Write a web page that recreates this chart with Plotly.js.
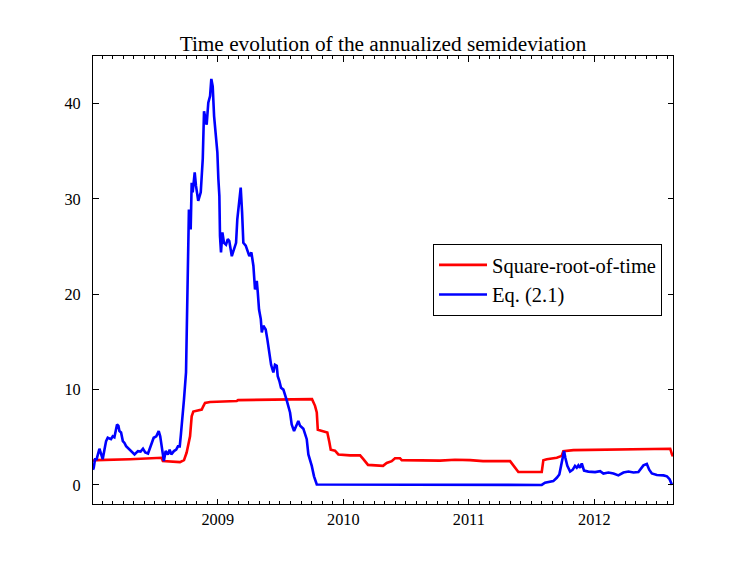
<!DOCTYPE html>
<html>
<head>
<meta charset="utf-8">
<script src="https://cdn.plot.ly/plotly-3.0.1.min.js"></script>
<style>html,body{margin:0;padding:0;background:#fff;}#chart{width:747px;height:561px;}</style>
</head>
<body>
<div id="chart"></div>
<script>
// Decimal-year positions and values
const redYears = [2008.009, 2008.038, 2008.304, 2008.554, 2008.564, 2008.700, 2008.732, 2008.753, 2008.780, 2008.793, 2008.806, 2008.873, 2008.883, 2008.899, 2008.939, 2009.151, 2009.162, 2009.417, 2009.720, 2009.751, 2009.775, 2009.789, 2009.797, 2009.841, 2009.873, 2009.889, 2009.900, 2009.934, 2009.961, 2010.054, 2010.134, 2010.160, 2010.197, 2010.317, 2010.346, 2010.386, 2010.412, 2010.452, 2010.466, 2010.771, 2010.890, 2011.010, 2011.113, 2011.329, 2011.355, 2011.395, 2011.581, 2011.594, 2011.621, 2011.701, 2011.740, 2011.753, 2011.833, 2012.205, 2012.603, 2012.617, 2012.625];
const redValues = [2.55, 2.6, 2.7, 2.85, 2.5, 2.4, 2.6, 3.4, 5.1, 7.2, 7.7, 7.9, 8.2, 8.6, 8.7, 8.8, 8.9, 8.97, 9.05, 9.0, 8.3, 7.6, 5.8, 5.6, 5.5, 4.5, 3.7, 3.6, 3.2, 3.1, 3.1, 2.7, 2.1, 2.0, 2.3, 2.5, 2.8, 2.8, 2.6, 2.55, 2.65, 2.6, 2.5, 2.5, 2.05, 1.35, 1.35, 2.6, 2.7, 2.85, 3.05, 3.55, 3.65, 3.72, 3.8, 3.2, 3.0];

const blueYears = [2008.009, 2008.015, 2008.025, 2008.038, 2008.060, 2008.073, 2008.086, 2008.100, 2008.113, 2008.126, 2008.140, 2008.152, 2008.166, 2008.179, 2008.200, 2008.211, 2008.219, 2008.232, 2008.246, 2008.259, 2008.272, 2008.285, 2008.312, 2008.339, 2008.366, 2008.387, 2008.406, 2008.424, 2008.446, 2008.472, 2008.491, 2008.512, 2008.531, 2008.543, 2008.556, 2008.572, 2008.586, 2008.604, 2008.618, 2008.631, 2008.652, 2008.670, 2008.684, 2008.698, 2008.706, 2008.716, 2008.724, 2008.732, 2008.748, 2008.761, 2008.771, 2008.785, 2008.793, 2008.801, 2008.817, 2008.827, 2008.845, 2008.865, 2008.881, 2008.891, 2008.899, 2008.912, 2008.925, 2008.939, 2008.949, 2008.960, 2008.971, 2008.986, 2008.997, 2009.005, 2009.013, 2009.018, 2009.026, 2009.037, 2009.050, 2009.066, 2009.080, 2009.092, 2009.112, 2009.124, 2009.146, 2009.156, 2009.170, 2009.183, 2009.194, 2009.204, 2009.223, 2009.239, 2009.252, 2009.268, 2009.284, 2009.297, 2009.311, 2009.319, 2009.329, 2009.343, 2009.351, 2009.363, 2009.382, 2009.395, 2009.411, 2009.425, 2009.443, 2009.456, 2009.470, 2009.478, 2009.491, 2009.504, 2009.523, 2009.536, 2009.549, 2009.576, 2009.589, 2009.608, 2009.629, 2009.642, 2009.656, 2009.682, 2009.709, 2009.722, 2009.749, 2009.767, 2009.789, 2010.500, 2011.581, 2011.607, 2011.647, 2011.673, 2011.701, 2011.721, 2011.735, 2011.748, 2011.759, 2011.769, 2011.785, 2011.807, 2011.828, 2011.846, 2011.860, 2011.873, 2011.886, 2011.900, 2011.918, 2011.952, 2012.006, 2012.046, 2012.072, 2012.112, 2012.152, 2012.191, 2012.231, 2012.271, 2012.311, 2012.350, 2012.390, 2012.417, 2012.436, 2012.457, 2012.497, 2012.550, 2012.577, 2012.598, 2012.617];
const blueValues = [1.6, 1.8, 2.7, 2.7, 3.8, 3.2, 2.7, 3.7, 4.6, 4.95, 4.9, 4.8, 5.1, 5.0, 6.35, 6.2, 5.65, 5.5, 4.6, 4.4, 4.07, 3.9, 3.45, 3.2, 3.55, 3.5, 3.8, 3.4, 3.3, 4.4, 4.95, 5.1, 5.65, 5.1, 4.0, 2.5, 3.55, 3.2, 3.7, 3.2, 3.55, 3.7, 4.05, 4.05, 5.1, 6.5, 7.2, 9.0, 11.8, 20.2, 28.9, 26.8, 31.7, 30.7, 32.8, 31.4, 29.8, 30.7, 34.2, 39.2, 38.7, 37.8, 40.1, 40.8, 42.6, 41.8, 38.7, 36.3, 34.9, 32.1, 30.3, 26.1, 24.4, 26.5, 25.4, 25.2, 25.8, 25.6, 24.0, 24.5, 25.4, 27.9, 30.0, 31.2, 28.6, 25.4, 25.1, 24.4, 24.0, 24.4, 23.0, 20.5, 21.4, 20.2, 18.4, 17.4, 16.0, 16.7, 16.3, 15.3, 13.9, 12.6, 11.8, 12.6, 12.5, 11.4, 10.9, 10.2, 10.0, 9.3, 8.9, 7.6, 6.35, 5.65, 6.2, 6.7, 6.2, 5.9, 4.8, 3.2, 2.0, 0.9, 0.05, 0.0, 0.0, 0.23, 0.3, 0.4, 0.75, 1.1, 2.0, 2.85, 3.55, 2.85, 2.0, 1.4, 1.6, 2.0, 1.8, 2.05, 1.8, 2.25, 1.5, 1.4, 1.35, 1.45, 1.2, 1.3, 1.2, 1.0, 1.3, 1.4, 1.3, 1.35, 2.05, 2.2, 1.6, 1.2, 1.05, 1.0, 0.9, 0.6, 0.0];

const seriesNames = ['Square-root-of-time', 'Eq. (2.1)'];
const titleText = 'Time evolution of the annualized semideviation';
const xRangeYears = [2008.009, 2012.625];
const yTickValues = [0, 10, 20, 30, 40];

function yearToDate(y) {
  const yr = Math.floor(y);
  const s = Date.UTC(yr, 0, 1), e = Date.UTC(yr + 1, 0, 1);
  return new Date(s + (y - yr) * (e - s)).toISOString().slice(0, 19).replace('T', ' ');
}

const serif = 'Liberation Serif, Times New Roman, serif';
const xr = xRangeYears.map(yearToDate);

const traces = [
  {x: redYears.map(yearToDate), y: redValues, name: seriesNames[0], type: 'scatter', mode: 'lines',
   line: {color: '#ff0000', width: 2.6}},
  {x: blueYears.map(yearToDate), y: blueValues, name: seriesNames[1], type: 'scatter', mode: 'lines',
   line: {color: '#0000ff', width: 2.6}},
  // empty helper trace so the mirrored top axis (with its minor ticks) is drawn
  {x: [], y: [], xaxis: 'x2', yaxis: 'y', type: 'scatter', mode: 'lines', showlegend: false, hoverinfo: 'skip'}
];

const xCommon = {
  type: 'date', range: xr,
  showgrid: false, zeroline: false,
  ticks: 'inside', ticklen: 5.5, tickcolor: '#000', tickwidth: 1,
  tick0: '2009-01-01', dtick: 'M12', tickformat: '%Y',
  minor: {ticks: 'inside', ticklen: 3, dtick: 'M1', tickcolor: '#000', tickwidth: 1, showgrid: false}
};

const layout = {
  width: 747, height: 561,
  margin: {l: 93, r: 74, t: 56, b: 57},
  paper_bgcolor: '#fff', plot_bgcolor: '#fff',
  font: {family: serif, color: '#000', size: 16.3},
  title: {text: titleText, font: {family: serif, size: 21.3, color: '#000'},
          x: 0.5, xref: 'paper', xanchor: 'center', y: 1 - 44 / 561, yref: 'container', yanchor: 'middle'},
  showlegend: true,
  legend: {x: (662 - 93) / 580, xanchor: 'right', y: 0.5, yanchor: 'middle',
           bgcolor: '#fff', bordercolor: '#000', borderwidth: 1, itemwidth: 48,
           font: {family: serif, size: 20.5, color: '#000'}},
  xaxis: Object.assign({}, xCommon, {
    showline: true, linecolor: '#000', linewidth: 1, mirror: true,
    tickfont: {family: serif, size: 16.3, color: '#000'}
  }),
  xaxis2: Object.assign({}, xCommon, {
    overlaying: 'x', side: 'top', matches: 'x', showticklabels: false, showline: false
  }),
  yaxis: {
    range: [-2, 45],
    showgrid: false, zeroline: false,
    showline: true, linecolor: '#000', linewidth: 1, mirror: 'ticks',
    ticks: 'inside', ticklen: 5.5, tickcolor: '#000', tickwidth: 1,
    tickvals: yTickValues, ticktext: yTickValues.map(String),
    ticklabelstandoff: 8,
    tickfont: {family: serif, size: 16.3, color: '#000'}
  }
};

Plotly.newPlot('chart', traces, layout, {displayModeBar: false, staticPlot: true});
</script>
</body>
</html>
